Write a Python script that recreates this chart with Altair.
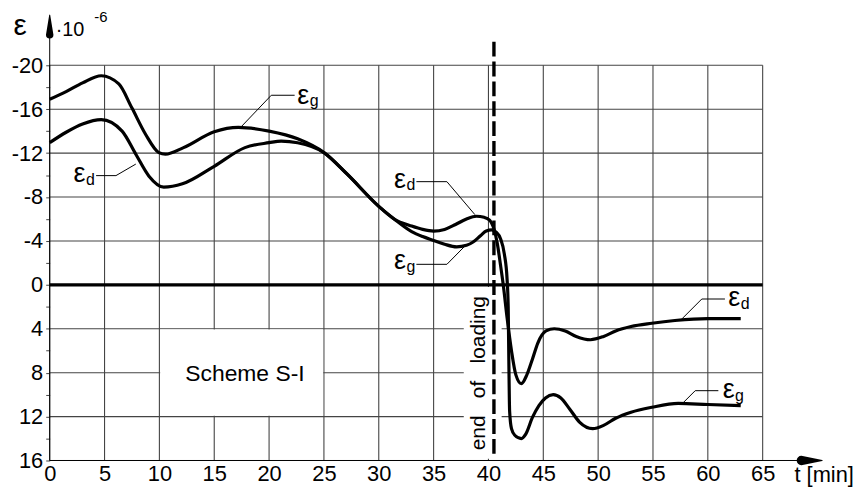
import altair as alt
import pandas as pd

FONT = "Liberation Sans"

# ---------------- data ----------------
# eps_g curve (time in min, strain * 1e-6; negative = upward on the chart)
t_g = [0, 1.5, 3, 4.7, 6.3, 7.5, 8.75, 9.95, 10.55, 12.2, 15, 17.2, 20, 22.6, 25,
       27.1, 30, 31.4, 33, 34, 35, 36, 37.1, 38, 38.6, 39.3, 39.8, 40.3, 40.7, 41.1,
       41.45, 41.7, 41.8, 41.86, 41.93, 42.1, 42.4, 43.0, 43.4, 44, 44.6, 45.2, 45.9,
       46.6, 47.4, 48.3, 49.5, 50.5, 51.6, 53, 54.9, 57.3, 60, 63]
eps_g = [-16.9, -17.6, -18.4, -19.05, -18.3, -16.1, -13.7, -12.05, -11.9, -12.5,
         -13.95, -14.35, -14.0, -13.3, -12.05, -10.1, -7.15, -6.0, -4.85, -4.4, -4.05,
         -3.7, -3.46, -3.6, -3.9, -4.5, -4.9, -5.0, -4.8, -4.2, -2.8, -0.5, 2.0, 7.0,
         11.5, 13.1, 13.7, 14.0, 13.6, 12.1, 11.0, 10.3, 10.0, 10.3, 11.3, 12.5, 13.1,
         12.8, 12.15, 11.6, 11.15, 10.8, 10.9, 11.0]

# eps_d curve
t_d = [0, 1.5, 3, 4.7, 6.6, 7.85, 9.05, 10.4, 12.1, 15, 17.8, 20, 21.1, 22.6, 25,
       27.1, 30, 31.4, 33, 34, 35, 36, 37, 38, 38.9, 39.6, 40.1, 40.5, 40.8, 41.1,
       41.35, 41.7, 42.1, 42.5, 43.0, 43.5, 44, 44.5, 45.25, 46, 47, 48, 49.3, 50.5,
       51.6, 53, 54.9, 57, 60, 63]
eps_d = [-12.95, -13.9, -14.65, -15.05, -14.0, -11.9, -9.9, -8.9, -9.2, -10.8,
         -12.5, -12.95, -13.1, -12.95, -12.05, -10.1, -7.15, -6.0, -5.35, -5.05, -4.9,
         -5.05, -5.5, -6.0, -6.25, -6.15, -5.9, -5.1, -3.8, -1.8, 0.0, 3.0, 6.0, 8.2,
         9.0, 8.2, 6.8, 5.3, 4.2, 4.0, 4.2, 4.7, 5.0, 4.7, 4.2, 3.8, 3.5, 3.25, 3.07, 3.07]

x_ticks = list(range(0, 66, 5))
y_grid = list(range(-20, 17, 4))
y_ticks = list(range(-20, 17, 2))

end_of_loading_t = 40.5

label_series = ["g", "d", "d", "g", "d", "g"]

# ---------------- annotation anchors (data coordinates) ----------------
label_x = [22.57, 2.17, 31.39, 31.39, 61.86, 61.35]
label_y = [-16.48, -9.34, -8.83, -1.42, 1.96, 10.33]

# leader lines + the two axis lines (last two polylines)
leader_x = [[17.44, 20.2, 22.33], [7.85, 6.04, 4.23], [38.77, 36.21, 33.43],
            [37.78, 36.21, 33.43], [57.64, 59.45, 61.56], [57.64, 58.85, 60.96],
            [0.0, 0.0], [0.0, 69.0]]
leader_y = [[-14.38, -17.27, -17.27], [-11.0, -9.95, -9.95], [-6.39, -9.4, -9.4],
            [-3.46, -1.87, -1.87], [3.1, 1.29, 1.29], [10.85, 9.64, 9.64],
            [16.0, -23.0], [16.0, 16.0]]

# arrow heads drawn as tapering trails (base -> tip)
head_x = [[68.53, 70.43], [0.0, 0.0]]
head_y = [[16.0, 16.0], [-22.78, -24.59]]
head_w = [[9.5, 0.0], [7.5, 0.0]]

free_texts = ["ε", "·10", "-6", "t [min]", "Scheme S-I"]
free_x = [-3.3, 0.54, 4.07, 67.9, 17.8]
free_y = [-22.72, -22.67, -23.96, 18.0, 8.74]
free_size = [30, 20, 15, 22, 23]
free_align = ["left", "left", "left", "left", "center"]

# ---------------- tables ----------------
curves = pd.concat([
    pd.DataFrame({"t": t_g, "eps": eps_g, "s": "g"}),
    pd.DataFrame({"t": t_d, "eps": eps_d, "s": "d"}),
], ignore_index=True)

leaders = pd.DataFrame([
    {"id": i, "o": j, "x": leader_x[i][j], "y": leader_y[i][j]}
    for i in range(len(leader_x)) for j in range(len(leader_x[i]))
])
heads = pd.DataFrame([
    {"id": i, "o": j, "x": head_x[i][j], "y": head_y[i][j], "w": head_w[i][j]}
    for i in range(len(head_x)) for j in range(2)
])
labels = pd.DataFrame({"x": label_x, "y": label_y, "sub": label_series, "eps": "ε"})

# ---------------- scales / axes ----------------
xs = alt.Scale(domain=[0, 65], nice=False, zero=False)
ys = alt.Scale(domain=[-20, 16], reverse=True, nice=False, zero=False)

x_axis = alt.Axis(values=x_ticks, title=None, grid=False, domain=False, ticks=False,
                  labelPadding=3, labelFontSize=22, labelFont=FONT, labelColor="black",
                  labelAngle=0, labelFlush=False, labelOverlap=False)
y_axis = alt.Axis(values=y_ticks, title=None, grid=False, domain=False, ticks=True,
                  tickSize=4, tickColor="#444", tickWidth=1, labelPadding=3,
                  labelFontSize=22, labelFont=FONT, labelColor="black",
                  labelOverlap=False, labelFlush=False,
                  labelExpr="datum.value % 4 == 0 ? (datum.value < 0 ? '-' + abs(datum.value) : '' + datum.value) : ''")


def X(f):
    return alt.X(f, type="quantitative", scale=xs, axis=x_axis)


def Y(f):
    return alt.Y(f, type="quantitative", scale=ys, axis=y_axis)


GRID = "#444"

vgrid = alt.Chart(pd.DataFrame({"x": x_ticks})).mark_rule(color=GRID, strokeWidth=1.1).encode(x=X("x"))
hgrid = alt.Chart(pd.DataFrame({"y": y_grid})).mark_rule(color=GRID, strokeWidth=1.1).encode(y=Y("y"))

masks = alt.Chart(pd.DataFrame({
    "x0": [10.07, 37.75], "x1": [24.93, 41.2],
    "y0": [4.07, 0.2], "y1": [11.93, 15.85],
})).mark_rect(color="white", opacity=1).encode(x=X("x0"), x2="x1", y=Y("y0"), y2="y1")

zero_line = alt.Chart(pd.DataFrame({"y": [0]})).mark_rule(color="black", strokeWidth=3.2).encode(y=Y("y"))

dashed = alt.Chart(pd.DataFrame({"x": [end_of_loading_t], "y0": [-22.15], "y1": [15.5]})).mark_rule(
    color="black", strokeWidth=3.4, strokeDash=[15, 5]).encode(x=X("x"), y=Y("y0"), y2="y1")

lines = alt.Chart(curves).mark_line(color="black", strokeWidth=3.2, interpolate="monotone").encode(
    x=X("t"), y=Y("eps"), detail="s:N")

leader_lines = alt.Chart(leaders).mark_line(color="black", strokeWidth=1.0).encode(
    x=X("x"), y=Y("y"), detail="id:N", order="o:Q")

arrow_heads = alt.Chart(heads).mark_trail(color="black", opacity=1).encode(
    x=X("x"), y=Y("y"), detail="id:N", order="o:Q",
    size=alt.Size("w:Q", scale=None, legend=None))

eps_text = alt.Chart(labels).mark_text(align="left", baseline="alphabetic", fontSize=27,
                                       font=FONT, color="black").encode(x=X("x"), y=Y("y"), text="eps:N")
sub_text = alt.Chart(labels).mark_text(align="left", baseline="alphabetic", fontSize=16,
                                       font=FONT, color="black", dx=12.5, dy=2.5).encode(
    x=X("x"), y=Y("y"), text="sub:N")

free_layers = []
for txt, fx, fy, fs, fa in zip(free_texts, free_x, free_y, free_size, free_align):
    free_layers.append(
        alt.Chart(pd.DataFrame({"x": [fx], "y": [fy], "txt": [txt]})).mark_text(
            baseline="alphabetic", align=fa, fontSize=fs, font=FONT, color="black"
        ).encode(x=X("x"), y=Y("y"), text="txt:N")
    )

eol = alt.Chart(pd.DataFrame({"x": [39.68], "y": [8.05],
                              "txt": ["end\u00a0\u00a0\u00a0of\u00a0\u00a0\u00a0loading"]})).mark_text(
    angle=270, align="center", baseline="alphabetic", fontSize=21, font=FONT, color="black"
).encode(x=X("x"), y=Y("y"), text="txt:N")

chart = alt.layer(
    vgrid, hgrid, masks, zero_line, dashed,
    lines, leader_lines, arrow_heads, eps_text, sub_text, *free_layers, eol
).properties(
    width=718, height=398,
    autosize=alt.AutoSizeParams(type="none"),
    padding={"left": 42, "top": 56, "right": 95, "bottom": 26},
    background="white",
).configure_view(stroke=None)

chart.save("out.html", embed_options={"renderer": "svg", "actions": False})
